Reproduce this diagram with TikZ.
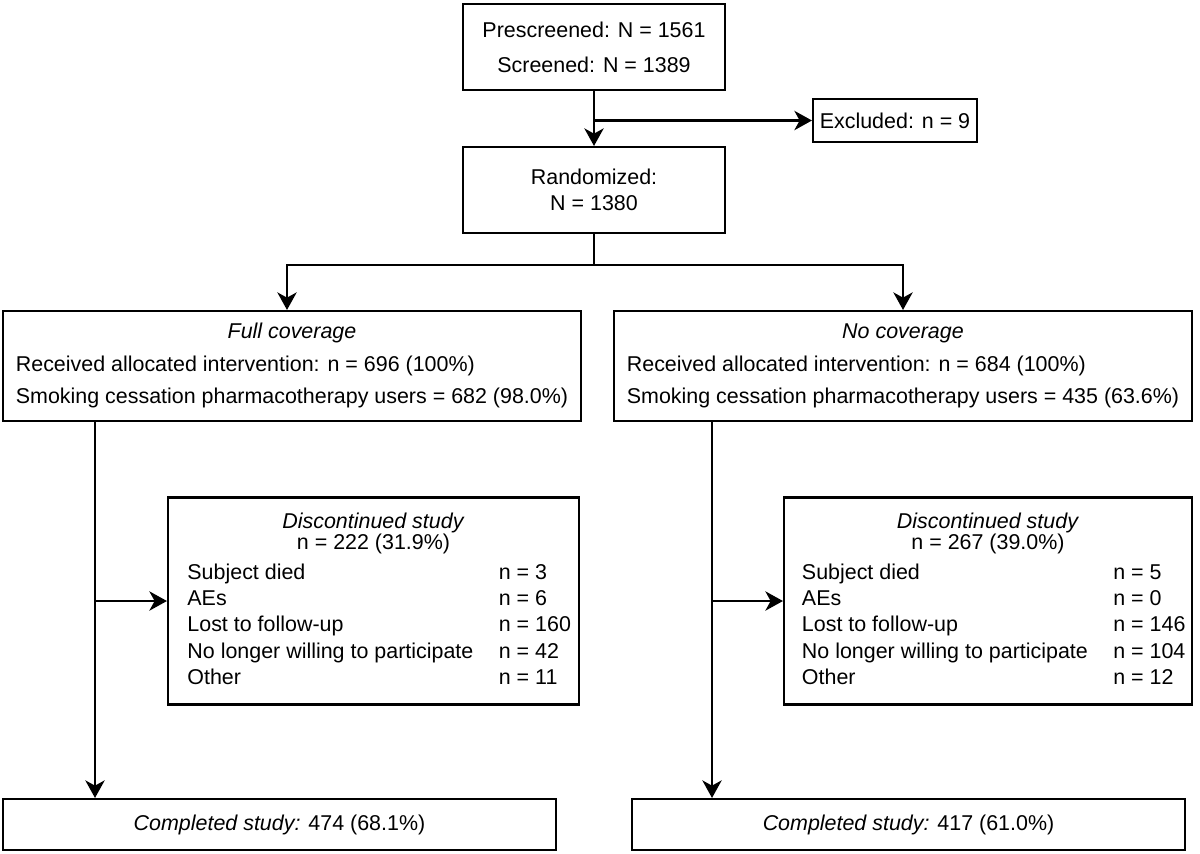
\documentclass[tikz,border=0pt]{standalone}
\usepackage{fontspec}
\setmainfont{Liberation Sans}
\usetikzlibrary{arrows.meta}
\tikzset{
  box/.style={draw, line width=1.2pt, inner sep=0pt, align=center},
  link/.style={line width=1.2pt},
  arr/.style={link, -{Stealth[length=10pt, width=11pt, inset=3pt]}},
}
\newcommand{\dtab}[6]{%
  \begin{tabular}{@{\hspace{6.5pt}}l@{\hspace{14.5pt}}l@{}}
    \multicolumn{2}{@{}c@{}}{\textit{Discontinued study}}\\[-3pt]
    \multicolumn{2}{@{}c@{}}{#1}\\[2pt]
    Subject died & #2\\
    AEs & #3\\
    Lost to follow-up & #4\\
    No longer willing to participate & #5\\
    Other & #6
  \end{tabular}}
\begin{document}
\begin{tikzpicture}[x=0.02cm, y=-0.02cm, font=\fontsize{12.2}{15}\selectfont]
      \useasboundingbox (0,0) rectangle (1200,853);
      \draw
        (594,47) node[box, minimum width=262*0.02cm, minimum height=86*0.02cm] (screen)
          {Prescreened: N = 1561\\[5pt] Screened: N = 1389}
        (895,120.5) node[box, minimum width=164*0.02cm, minimum height=43*0.02cm] (excl)
          {Excluded: n = 9}
        (594,190) node[box, minimum width=262*0.02cm, minimum height=86*0.02cm] (rand)
          {Randomized:\\ N = 1380}
        (292,366) node[box, minimum width=578*0.02cm, minimum height=110*0.02cm] (full)
          {\begin{tabular}{@{}l@{}}
             \multicolumn{1}{c}{\textit{Full coverage}}\\[3.5pt]
             Received allocated intervention: n = 696 (100\%)\\[3.5pt]
             Smoking cessation pharmacotherapy users = 682 (98.0\%)
           \end{tabular}}
        (903,366) node[box, minimum width=578*0.02cm, minimum height=110*0.02cm] (nocov)
          {\begin{tabular}{@{}l@{}}
             \multicolumn{1}{c}{\textit{No coverage}}\\[3.5pt]
             Received allocated intervention: n = 684 (100\%)\\[3.5pt]
             Smoking cessation pharmacotherapy users = 435 (63.6\%)
           \end{tabular}}
        (373.5,601) node[box, minimum width=411*0.02cm, minimum height=207*0.02cm] (discL)
          {\dtab{n = 222 (31.9\%)}{n = 3}{n = 6}{n = 160}{n = 42}{n = 11}}
        (988,601) node[box, minimum width=408*0.02cm, minimum height=207*0.02cm] (discR)
          {\dtab{n = 267 (39.0\%)}{n = 5}{n = 0}{n = 146}{n = 104}{n = 12}}
        (279.5,824.5) node[box, minimum width=553*0.02cm, minimum height=51*0.02cm] (compL)
          {\textit{Completed study:} 474 (68.1\%)}
        (908.5,824.5) node[box, minimum width=553*0.02cm, minimum height=51*0.02cm] (compR)
          {\textit{Completed study:} 417 (61.0\%)};
      \coordinate (fork) at (594,265);
      \coordinate (spineL) at (95,0);
      \coordinate (spineR) at (712,0);
      \begin{scope}[arr]
        \draw (screen.south) to (rand.north);
        \draw (screen.south |- excl.west) to (excl.west);
        \draw[link, -] (rand.south) to (fork);
        \draw (fork) -| ([xshift=-5*0.02cm]full.north);
        \draw (fork) -| (nocov.north);
        \draw (full.south -| spineL) to (compL.north -| spineL);
        \draw (discL.west -| spineL) to (discL.west);
        \draw (nocov.south -| spineR) to (compR.north -| spineR);
        \draw (discR.west -| spineR) to (discR.west);
      \end{scope}
    \end{tikzpicture}
\end{document}
